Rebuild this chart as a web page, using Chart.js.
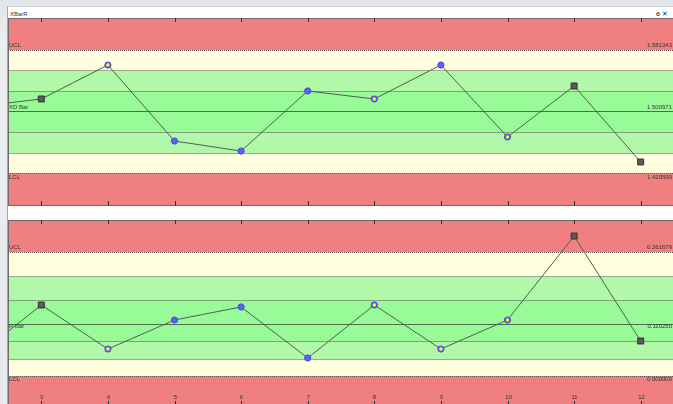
<!DOCTYPE html>
<html lang="en">
<head>
<meta charset="UTF-8">
<title>XBarR</title>
<script src="https://cdn.jsdelivr.net/npm/chart.js"></script>
<style>
    html, body {
        margin: 0;
        width: 673px;
        height: 404px;
        overflow: hidden;
    }

    body {
        position: relative;
        background: linear-gradient(180deg, #e2e5e9, #eceef1 40px, #e6e9ed);
        font-family: "Liberation Sans", Arial, sans-serif;
    }

    .panel {
        position: absolute;
        left: 7px;
        top: 6px;
        width: 665px;
        height: 397px;
        background: #fff;
        border-left: 1px solid #a4a9b0;
        border-top: 1px solid #cfd3d8;
    }

    .title {
        position: absolute;
        left: 2px;
        top: 4px;
        font-size: 6px;
        color: #333;
    }

    .btns {
        position: absolute;
        left: 648px;
        top: 3px;
        font-size: 7px;
        color: #333;
    }

    .plot {
        position: absolute;
        left: 8px;
        width: 665px;
        overflow: hidden;
    }

    #xbarBox { top: 18px; height: 188px; }
    #rangeBox { top: 220px; height: 184px; }
</style>
</head>
<body>
<div class="panel">
    <div class="title">XBarR</div>
    <div class="btns">ɵ &#x2715;</div>
</div>
<div class="plot" id="xbarBox"><canvas id="xbarChart" width="666" height="188"></canvas></div>
<div class="plot" id="rangeBox"><canvas id="rangeChart" width="666" height="186"></canvas></div>

<script>
// subgroup numbers (2 sits just off the left edge)
const xValues = [2, 3, 4, 5, 6, 7, 8, 9, 10, 11, 12];
const tickLabels = ['3', '4', '5', '6', '7', '8', '9', '10', '11', '12'];

// XBar chart
const xbarValues = [1.5067, 1.5171, 1.5612, 1.4625, 1.4495, 1.5275, 1.5171, 1.5612, 1.4677, 1.5340, 1.4353];
const xbarMarks = ['s', 's', 'y', 'b', 'b', 'b', 'y', 'b', 'y', 's', 's'];
const xbarLimits = [1.581343, 1.500971, 1.420599];   // UCL, centre, LCL

// Range chart
const rangeValues = [0.0379, 0.1495, 0.0568, 0.1179, 0.1453, 0.0379, 0.1495, 0.0568, 0.1179, 0.2947, 0.0737];
const rangeMarks = ['s', 's', 'y', 'b', 'b', 'b', 'y', 'y', 'y', 's', 's'];
const rangeLimits = [0.261679, 0.110250, 0.000000];

const FONT = '6px "Liberation Sans", Arial, sans-serif';

// zone bands, limit lines, labels, frame and inner ticks
const spcPlugin = {
    id: 'spc',
    beforeDatasetsDraw(chart, args, opts) {
        const ctx = chart.ctx, area = chart.chartArea, y = chart.scales.y;
        const [ucl, cl, lcl] = opts.limits;
        const up = (ucl - cl) / 3, dn = (cl - lcl) / 3;
        const edges = [y.max, ucl, cl + 2 * up, cl + up, cl, cl - dn, cl - 2 * dn, lcl, y.min];
        const fills = ['#f08080', '#ffffe0', '#b1f8a9', '#98fb98', '#98fb98', '#b1f8a9', '#ffffe0', '#f08080'];
        const px = edges.map(v => Math.round(y.getPixelForValue(v)));

        ctx.save();
        for (let i = 0; i < fills.length; i++) {
            ctx.fillStyle = fills[i];
            ctx.fillRect(area.left, px[i], area.right - area.left, px[i + 1] - px[i]);
        }

        ctx.lineWidth = 1;
        [2, 6].forEach(i => {
            ctx.strokeStyle = '#9aaa8e';
            ctx.beginPath();
            ctx.moveTo(area.left, px[i] + 0.5);
            ctx.lineTo(area.right, px[i] + 0.5);
            ctx.stroke();
        });
        [3, 5].forEach(i => {
            ctx.strokeStyle = '#7fa27a';
            ctx.beginPath();
            ctx.moveTo(area.left, px[i] + 0.5);
            ctx.lineTo(area.right, px[i] + 0.5);
            ctx.stroke();
        });
        ctx.strokeStyle = '#4c704a';
        ctx.beginPath();
        ctx.moveTo(area.left, px[4] + 0.5);
        ctx.lineTo(area.right, px[4] + 0.5);
        ctx.stroke();

        ctx.strokeStyle = '#5a5a5a';
        ctx.setLineDash([1, 1]);
        [1, 7].forEach(i => {
            ctx.beginPath();
            ctx.moveTo(area.left, px[i] + 0.5);
            ctx.lineTo(area.right, px[i] + 0.5);
            ctx.stroke();
        });
        ctx.setLineDash([]);

        ctx.font = FONT;
        ctx.fillStyle = '#333';
        ctx.textBaseline = 'middle';
        const rows = [[1, 'UCL', ucl], [4, opts.centreName, cl], [7, 'LCL', lcl]];
        rows.forEach((r, k) => {
            const ty = px[r[0]] + opts.labelShift[k];
            ctx.textAlign = 'left';
            ctx.fillText(r[1], area.left + 1, ty);
            ctx.textAlign = 'right';
            ctx.fillText(r[2].toFixed(6), 664, ty);
        });
        ctx.restore();
    },
    afterDatasetsDraw(chart, args, opts) {
        const ctx = chart.ctx, meta = chart.getDatasetMeta(0);
        ctx.save();
        ctx.fillStyle = '#ffff00';
        opts.marks.forEach((m, i) => {
            if (m !== 'y') return;
            const el = meta.data[i];
            ctx.beginPath();
            ctx.arc(el.x, el.y, 1.7, 0, Math.PI * 2);
            ctx.fill();
        });
        ctx.restore();
    },
    afterDraw(chart, args, opts) {
        const ctx = chart.ctx, area = chart.chartArea, xs = chart.scales.x;
        ctx.save();
        ctx.strokeStyle = '#6b6b6b';
        ctx.lineWidth = 1;
        ctx.beginPath();
        ctx.moveTo(area.left + 0.5, area.top);
        ctx.lineTo(area.left + 0.5, area.bottom);
        ctx.moveTo(area.left, area.top + 0.5);
        ctx.lineTo(area.right, area.top + 0.5);
        ctx.moveTo(area.left, area.bottom - 0.5);
        ctx.lineTo(area.right, area.bottom - 0.5);
        ctx.stroke();

        ctx.strokeStyle = '#333';
        ctx.font = FONT;
        ctx.fillStyle = '#333';
        ctx.textAlign = 'center';
        ctx.textBaseline = 'middle';
        tickLabels.forEach(t => {
            const x = Math.round(xs.getPixelForValue(Number(t))) + 0.5;
            ctx.beginPath();
            ctx.moveTo(x, area.top);
            ctx.lineTo(x, area.top + 4);
            ctx.moveTo(x, area.bottom - 5);
            ctx.lineTo(x, area.bottom);
            ctx.stroke();
            if (opts.showLabels) ctx.fillText(t, x, area.bottom - 9);
        });
        ctx.restore();
    }
};

function makeChart(id, values, marks, limits, yMin, yMax, centreName, labelShift, showLabels) {
    return new Chart(document.getElementById(id), {
        type: 'line',
        data: {
            datasets: [{
                data: xValues.map((x, i) => ({ x: x, y: values[i] })),
                borderColor: '#4f5f4f',
                borderWidth: 1,
                tension: 0,
                pointStyle: c => marks[c.dataIndex] === 's' ? 'rect' : 'circle',
                pointRadius: c => marks[c.dataIndex] === 's' ? 4.2 : 3.1,
                pointBackgroundColor: c => marks[c.dataIndex] === 's' ? '#5c5c5c' : '#5f5fff',
                pointBorderColor: c => marks[c.dataIndex] === 's' ? '#303030' : '#4a4ad8',
                pointBorderWidth: 1
            }]
        },
        options: {
            responsive: false,
            animation: false,
            layout: { padding: 0, autoPadding: false },
            scales: {
                x: { type: 'linear', min: 2.5, max: 12.5, display: false },
                y: { min: yMin, max: yMax, display: false }
            },
            plugins: {
                legend: { display: false },
                tooltip: { enabled: false },
                spc: { limits: limits, marks: marks, centreName: centreName, labelShift: labelShift, showLabels: showLabels }
            }
        },
        plugins: [spcPlugin]
    });
}

makeChart('xbarChart', xbarValues, xbarMarks, xbarLimits, 1.37812, 1.62227, 'XD Bar', [-5, -4, 4], false);
makeChart('rangeChart', rangeValues, rangeMarks, rangeLimits, -0.06316, 0.32842, 'R Bar', [-5, 2, 3], true);
</script>
</body>
</html>
